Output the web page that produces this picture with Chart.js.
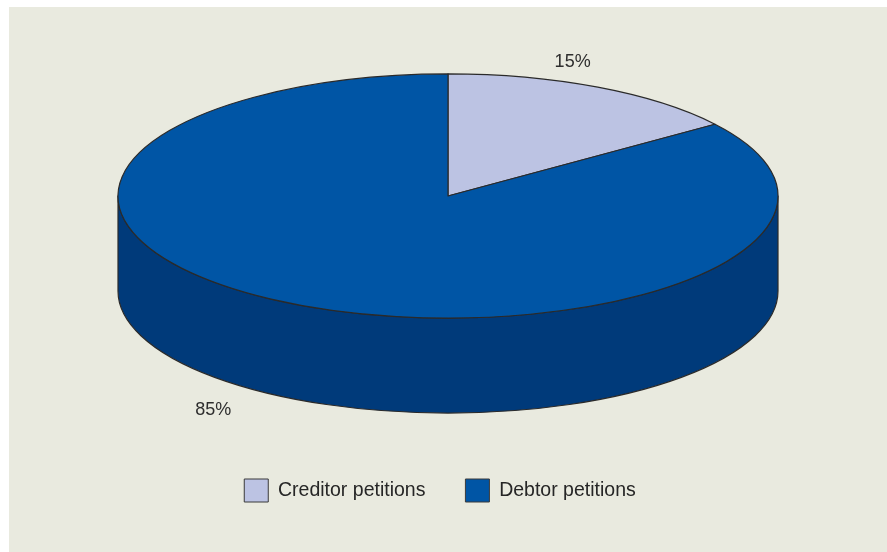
<!DOCTYPE html>
<html>
<head>
<meta charset="utf-8">
<script src="https://cdn.jsdelivr.net/npm/chart.js@4/dist/chart.umd.min.js"></script>
<style>
  html, body { margin: 0; padding: 0; background: #ffffff; }
  #panel { position: absolute; left: 9px; top: 7px; width: 878px; height: 545px; background: #E9EADF; }
  canvas { display: block; }
</style>
</head>
<body>
<div id="panel"><canvas id="chart" width="878" height="545"></canvas></div>
<script>
// Bankruptcy petitions by type
const categories = ['Creditor petitions', 'Debtor petitions'];
const shares = [15, 85];
const valueLabels = ['15%', '85%'];
const topColors = ['#BCC3E3', '#0055A5'];
const sideColors = ['#8E97C4', '#003A7A'];

const FONT = "'Liberation Sans', Arial, Helvetica, sans-serif";

// Draws the pie as a tilted disc: the library's arc geometry (centre, radius,
// start/end angles) is projected onto an ellipse and given a visible rim.
const pie3d = {
  id: 'pie3d',
  afterLayout(chart, args, opts) {
    // nudge the legend row sideways
    const lg = chart.legend;
    if (lg) { lg.left += opts.legendShift; lg.right += opts.legendShift; }
  },
  beforeDatasetsDraw(chart, args, opts) {
    const arcs = chart.getDatasetMeta(0).data;
    if (!arcs.length) return;
    const ctx = chart.ctx;
    const { x, y, outerRadius: rx } = arcs[0];
    const ry = rx * opts.tilt;
    const topY = y - opts.depth / 2;
    const botY = y + opts.depth / 2;

    ctx.save();
    ctx.lineWidth = opts.edgeWidth;
    ctx.strokeStyle = opts.edgeColor;
    ctx.lineJoin = 'round';

    // rim: only the front half (0..PI) faces the viewer
    arcs.forEach((arc, i) => {
      const a0 = Math.max(arc.startAngle, 0);
      const a1 = Math.min(arc.endAngle, Math.PI);
      if (a1 <= a0) return;
      ctx.beginPath();
      ctx.ellipse(x, topY, rx, ry, 0, a0, a1);
      ctx.lineTo(x + rx * Math.cos(a1), botY + ry * Math.sin(a1));
      ctx.ellipse(x, botY, rx, ry, 0, a1, a0, true);
      ctx.closePath();
      ctx.fillStyle = opts.sideColors[i];
      ctx.fill();
      ctx.stroke();
    });

    // top faces
    arcs.forEach((arc) => {
      ctx.beginPath();
      ctx.moveTo(x, topY);
      ctx.ellipse(x, topY, rx, ry, 0, arc.startAngle, arc.endAngle);
      ctx.closePath();
      ctx.fillStyle = arc.options.backgroundColor;
      ctx.fill();
      ctx.stroke();
    });

    // percentage labels, placed just outside each slice
    ctx.fillStyle = opts.labelColor;
    ctx.font = opts.labelFont;
    ctx.textAlign = 'center';
    ctx.textBaseline = 'middle';
    arcs.forEach((arc, i) => {
      const spot = opts.labelSpots[i];
      const mid = (arc.startAngle + arc.endAngle) / 2 + spot.shift * Math.PI / 180;
      const cy = spot.face === 'bottom' ? botY : topY;
      ctx.fillText(opts.labels[i],
        x + rx * spot.reach * Math.cos(mid),
        cy + ry * spot.reach * Math.sin(mid));
    });

    ctx.restore();
    return false;
  }
};

new Chart(document.getElementById('chart'), {
  type: 'pie',
  data: {
    labels: categories,
    datasets: [{
      data: shares,
      backgroundColor: topColors,
      borderColor: '#3a3a3a',
      borderWidth: 1
    }]
  },
  options: {
    responsive: false,
    animation: false,
    events: [],
    radius: 330,
    layout: { padding: { top: 41, bottom: 40, left: 0, right: 0 } },
    plugins: {
      legend: {
        position: 'bottom',
        labels: {
          boxWidth: 24,
          boxHeight: 23,
          padding: 40,
          color: '#262626',
          font: { family: FONT, size: 19.5 }
        }
      },
      tooltip: { enabled: false },
      pie3d: {
        tilt: 0.37,
        depth: 95,
        edgeColor: '#2a2a2a',
        edgeWidth: 1.2,
        sideColors: sideColors,
        labels: valueLabels,
        labelColor: '#2e2e2e',
        labelFont: '18px ' + FONT,
        legendShift: -8,
        labelSpots: [
          { shift: -8, reach: 1.16, face: 'top' },
          { shift: 9, reach: 1.21, face: 'bottom' }
        ]
      }
    }
  },
  plugins: [pie3d]
});
</script>
</body>
</html>
